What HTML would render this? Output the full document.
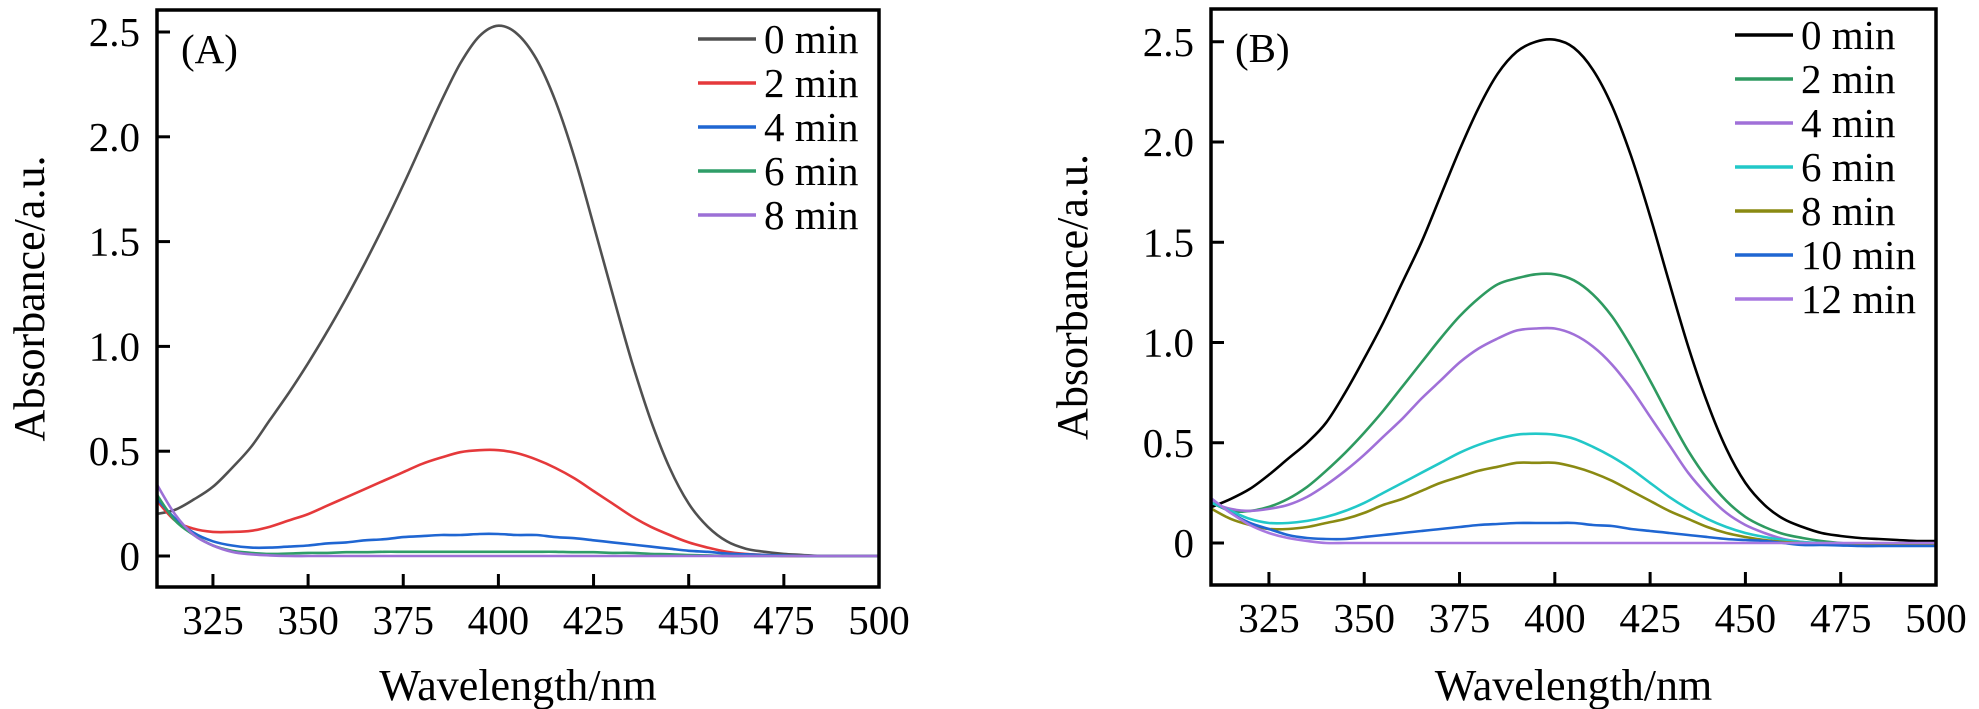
<!DOCTYPE html>
<html><head><meta charset="utf-8"><style>
html,body{margin:0;padding:0;background:#fff;}
svg{display:block;font-family:"Liberation Serif",serif;}
</style></head><body>
<svg id="chart" width="1979" height="709" viewBox="0 0 1979 709" xmlns="http://www.w3.org/2000/svg"></svg>
<script>
const wavelengths=[310,315,320,325,330,335,340,345,350,355,360,365,370,375,380,385,390,395,400,405,410,415,420,425,430,435,440,445,450,455,460,465,470,475,480,485,490,495,500];
const xTicks=[325,350,375,400,425,450,475,500];
const yTicks=[0,0.5,1.0,1.5,2.0,2.5];
const yTickLabels=["0","0.5","1.0","1.5","2.0","2.5"];
// Panel A
const aLabels=["0 min","2 min","4 min","6 min","8 min"];
const aColors=["#505050","#e5393b","#1f66d2","#2f9d68","#9c70d6"];
const a0=[0.2,0.22,0.27,0.33,0.42,0.52,0.65,0.78,0.92,1.07,1.23,1.40,1.58,1.77,1.97,2.17,2.35,2.48,2.53,2.49,2.37,2.17,1.90,1.58,1.25,0.93,0.65,0.42,0.25,0.14,0.07,0.035,0.02,0.01,0.005,0,0,0,0];
const a2=[0.27,0.17,0.13,0.115,0.115,0.12,0.14,0.17,0.20,0.24,0.28,0.32,0.36,0.40,0.44,0.47,0.495,0.505,0.505,0.49,0.46,0.42,0.37,0.31,0.25,0.19,0.14,0.10,0.065,0.04,0.02,0.01,0.005,0,0,0,0,0,0];
const a4=[0.28,0.18,0.11,0.07,0.05,0.04,0.04,0.045,0.05,0.06,0.065,0.075,0.08,0.09,0.095,0.1,0.1,0.105,0.105,0.1,0.1,0.09,0.085,0.075,0.065,0.055,0.045,0.035,0.025,0.02,0.012,0.008,0.005,0.003,0,0,0,0,0];
const a6=[0.3,0.17,0.1,0.05,0.025,0.015,0.01,0.012,0.015,0.015,0.018,0.018,0.02,0.02,0.02,0.02,0.02,0.02,0.02,0.02,0.02,0.02,0.018,0.018,0.015,0.015,0.01,0.008,0.005,0.003,0,0,0,0,0,0,0,0,0];
const a8=[0.35,0.2,0.1,0.05,0.02,0.008,0.003,0,0,0,0,0,0,0,0,0,0,0,0,0,0,0,0,0,0,0,0,0,0,0,0,0,0,0,0,0,0,0,0];
// Panel B
const bLabels=["0 min","2 min","4 min","6 min","8 min","10 min","12 min"];
const bColors=["#000000","#2e9a60","#a070d8","#22c8c8","#8a8a12","#1f66d2","#a878e0"];
const b0=[0.18,0.22,0.27,0.34,0.42,0.5,0.6,0.75,0.92,1.1,1.3,1.5,1.73,1.96,2.17,2.34,2.45,2.5,2.51,2.47,2.36,2.18,1.93,1.63,1.3,0.98,0.7,0.47,0.3,0.19,0.12,0.08,0.05,0.035,0.025,0.02,0.015,0.01,0.01];
const b2=[0.2,0.16,0.16,0.18,0.22,0.28,0.36,0.45,0.55,0.66,0.78,0.9,1.02,1.13,1.22,1.29,1.32,1.34,1.34,1.31,1.24,1.13,0.98,0.81,0.63,0.46,0.32,0.21,0.13,0.08,0.045,0.025,0.01,0,-0.005,-0.008,-0.01,-0.01,-0.01];
const b4=[0.2,0.17,0.16,0.17,0.19,0.23,0.29,0.36,0.44,0.53,0.62,0.72,0.81,0.9,0.97,1.02,1.06,1.07,1.07,1.04,0.98,0.89,0.77,0.63,0.49,0.35,0.24,0.15,0.09,0.05,0.02,0.005,-0.005,-0.01,-0.01,-0.01,-0.01,-0.01,-0.01];
const b6=[0.2,0.16,0.12,0.10,0.10,0.11,0.13,0.16,0.2,0.25,0.3,0.35,0.4,0.45,0.49,0.52,0.54,0.545,0.54,0.52,0.48,0.43,0.37,0.3,0.23,0.17,0.12,0.08,0.05,0.03,0.015,0.005,0,-0.01,-0.01,-0.01,-0.01,-0.01,-0.01];
const b8=[0.17,0.12,0.09,0.07,0.07,0.08,0.1,0.12,0.15,0.19,0.22,0.26,0.3,0.33,0.36,0.38,0.4,0.4,0.4,0.38,0.35,0.31,0.26,0.21,0.16,0.12,0.08,0.05,0.03,0.015,0.005,0,-0.005,-0.01,-0.01,-0.01,-0.01,-0.01,-0.01];
const b10=[0.22,0.15,0.1,0.07,0.04,0.025,0.02,0.02,0.03,0.04,0.05,0.06,0.07,0.08,0.09,0.095,0.1,0.1,0.1,0.1,0.09,0.085,0.07,0.06,0.05,0.04,0.03,0.02,0.015,0.01,0,-0.01,-0.01,-0.012,-0.015,-0.015,-0.015,-0.015,-0.015];
const b12=[0.22,0.15,0.09,0.05,0.025,0.01,0,0,0,0,0,0,0,0,0,0,0,0,0,0,0,0,0,0,0,0,0,0,0,0,0,0,0,0,0,0,0,0,0];

const NS="http://www.w3.org/2000/svg";
const svg=document.getElementById('chart');
function mk(tag,attrs,parent){const e=document.createElementNS(NS,tag);for(const k in attrs)e.setAttribute(k,attrs[k]);(parent||svg).appendChild(e);return e;}
function smoothPath(p){
  let d='M'+p[0][0].toFixed(1)+','+p[0][1].toFixed(1);
  for(let i=0;i<p.length-1;i++){
    const p0=p[i-1]||p[i],p1=p[i],p2=p[i+1],p3=p[i+2]||p2;
    const c1x=p1[0]+(p2[0]-p0[0])/6,c1y=p1[1]+(p2[1]-p0[1])/6;
    const c2x=p2[0]-(p3[0]-p1[0])/6,c2y=p2[1]-(p3[1]-p1[1])/6;
    d+=' C'+c1x.toFixed(1)+','+c1y.toFixed(1)+' '+c2x.toFixed(1)+','+c2y.toFixed(1)+' '+p2[0].toFixed(1)+','+p2[1].toFixed(1);
  }
  return d;
}

function panel(cfg){
  const g=mk('g',{});
  
  
  const X=v=>cfg.x0+(v-cfg.xmin)/(cfg.xmax-cfg.xmin)*(cfg.x1-cfg.x0);
  const Y=v=>cfg.yZero-v*cfg.yUnit;
  const cid='clip'+cfg.id;
  const cp=mk('clipPath',{id:cid},g);
  mk('rect',{x:cfg.x0,y:cfg.y0,width:cfg.x1-cfg.x0,height:cfg.y1-cfg.y0},cp);
  const lg=mk('g',{'clip-path':'url(#'+cid+')'},g);
  cfg.series.forEach((s,i)=>{
    const pts=wavelengths.map((w,j)=>[X(w),Y(s[j])]);
    const pl=mk('path',{d:smoothPath(pts),fill:'none',stroke:cfg.colors[i],'stroke-width':2.6,'stroke-linejoin':'round'},lg);
    
    
  });
  const fr=mk('rect',{x:cfg.x0,y:cfg.y0,width:cfg.x1-cfg.x0,height:cfg.y1-cfg.y0,fill:'none',stroke:'#000','stroke-width':3.5},g);
  
  
  xTicks.forEach(t=>{
    const x=X(t);
    mk('line',{x1:x,x2:x,y1:cfg.y1,y2:cfg.y1-13,stroke:'#000','stroke-width':3},g);
    const tx=mk('text',{x:x,y:cfg.y1+47,'font-size':41,'text-anchor':'middle'},g);
    tx.textContent=t;
    
    
  });
  yTicks.forEach((t,i)=>{
    const y=Y(t);
    mk('line',{x1:cfg.x0,x2:cfg.x0+13,y1:y,y2:y,stroke:'#000','stroke-width':3},g);
    const tx=mk('text',{x:cfg.x0-17,y:y+14,'font-size':41,'text-anchor':'end'},g);
    tx.textContent=yTickLabels[i];
    
    
  });
  const xt=mk('text',{x:(cfg.x0+cfg.x1)/2,y:700,'font-size':44,'text-anchor':'middle'},g);
  xt.textContent='Wavelength/nm';
  
  
  const yt=mk('text',{x:0,y:0,'font-size':44,'text-anchor':'middle',transform:'translate('+(cfg.ytx)+','+((cfg.y0+cfg.y1)/2)+') rotate(-90)'},g);
  yt.textContent='Absorbance/a.u.';
  
  
  const pt=mk('text',{x:cfg.x0+24,y:cfg.y0+53,'font-size':41},g);
  pt.textContent=cfg.tag;
  
  
  cfg.labels.forEach((l,i)=>{
    const y=cfg.legY+i*44;
    const le=mk('g',{},g);
    
    
    mk('line',{x1:cfg.legX,x2:cfg.legX+58,y1:y,y2:y,stroke:cfg.colors[i],'stroke-width':3.5},le);
    const t=mk('text',{x:cfg.legX+66,y:y+14,'font-size':41},le);
    t.textContent=l;
  });
}
panel({id:'A',name:'panel-a',tag:'(A)',x0:157,x1:879,y0:10,y1:587,xmin:310.3,xmax:500,yZero:556,yUnit:209.6,ytx:44,
  series:[a0,a2,a4,a6,a8],labels:aLabels,colors:aColors,legX:698,legY:39});
panel({id:'B',name:'panel-b',tag:'(B)',x0:1211,x1:1936,y0:9,y1:585,xmin:309.8,xmax:500,yZero:543,yUnit:200.5,ytx:1087,
  series:[b0,b2,b4,b6,b8,b10,b12],labels:bLabels,colors:bColors,legX:1735,legY:35});
</script>
</body></html>
